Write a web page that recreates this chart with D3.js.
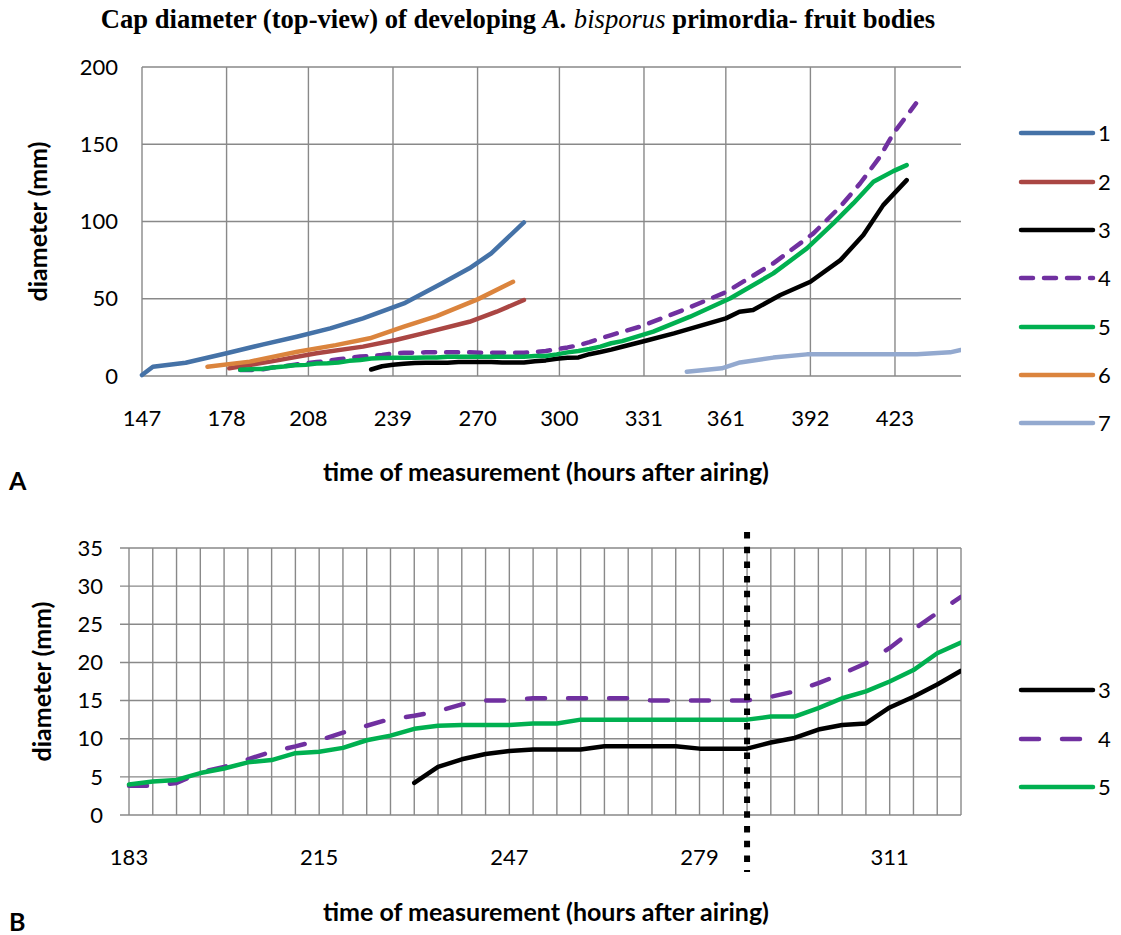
<!DOCTYPE html>
<html>
<head>
<meta charset="utf-8">
<script src="https://cdn.jsdelivr.net/npm/d3@7"></script>
<style>
  body { margin: 0; background: #fff; }
  svg { display: block; }
</style>
</head>
<body>
<div id="chart"></div>
<script>
// Cap diameter series, [hours after airing, diameter mm]
const series1 = [[147,0.6],[151,6],[163,8.6],[178,14.7],[191.5,20.5],[203.7,25.4],[216,30.8],[228,37.3],[243,47],[257,60],[267,69.7],[275,79.4],[287,99.4]];
const series2 = [[179,5],[194,9.3],[211,14.7],[228,19],[240,23.3],[250,27.6],[267,35.1],[277,41.6],[287,49.2]];
const series3 = [[231,4.2],[235,6.3],[239,7.3],[243,8.0],[247,8.4],[251,8.6],[259,8.6],[263,9.0],[275,9.0],[279,8.7],[287,8.7],[291,9.5],[295,10.1],[299,11.2],[303,11.8],[307,12.0],[311,14.1],[315,15.5],[319,17.1],[323,18.9],[332,23],[342,27.6],[361,37.3],[366,41.6],[371,42.7],[381,52.4],[392,61],[403,75],[411.4,91.2],[418.7,110.6],[427.3,126.8]];
const series4 = [[183,3.85],[187,3.85],[191,4.2],[195,5.6],[199,6.3],[203,7.3],[207,8.3],[211,9.0],[215,9.8],[219,10.8],[223,11.7],[227,12.6],[231,13.0],[235,13.6],[239,14.5],[243,15.0],[247,15.0],[251,15.3],[267,15.3],[271,15.0],[287,15.0],[291,15.5],[295,16.2],[299,17.3],[303,18.5],[307,19.9],[311,21.9],[315,24.3],[319,26.5],[323,28.6],[329.5,31.9],[345.4,42.7],[361.3,54.5],[378.4,72.9],[393.1,92.3],[402.9,109.5],[410.2,124.6],[417.5,141.9],[422.4,157],[430.7,176.4]];
const series5 = [[183,4.0],[187,4.4],[191,4.6],[195,5.5],[199,6.1],[203,6.9],[207,7.2],[211,8.1],[215,8.3],[219,8.8],[223,9.8],[227,10.4],[231,11.3],[235,11.7],[239,11.8],[247,11.8],[251,12.0],[255,12.0],[259,12.5],[287,12.5],[291,12.9],[295,12.9],[299,14.0],[303,15.3],[307,16.2],[311,17.5],[315,19.0],[319,21.2],[323,22.6],[334.4,28.7],[347.9,38.4],[362.5,50.2],[378.4,66.4],[390.7,82.6],[400.4,98.8],[407.7,111.7],[415.1,125.7],[422.4,132.6],[427.3,136.5]];
const series6 = [[171,6],[186.5,9.3],[204,15.7],[218,20],[230.5,24.4],[243,31.9],[255,38.8],[270,49.6],[283,61]];
const series7 = [[346.7,2.8],[359.5,5],[366.2,8.8],[378.4,11.9],[390.7,14],[431,14],[443.2,15.3],[447.1,16.8]];

const namesA = ["1","2","3","4","5","6","7"];
const namesB = ["3","4","5"];

const xTicksA = [147,178,208,239,270,300,331,361,392,423];
const yTicksA = [0,50,100,150,200];
const xTicksB = [183,215,247,279,311];
const yTicksB = [0,5,10,15,20,25,30,35];
const markerHour = 287;   // dotted line in panel B

const dataByName = {"1":series1,"2":series2,"3":series3,"4":series4,"5":series5,"6":series6,"7":series7};
const color = d3.scaleOrdinal()
    .domain(["1","2","3","4","5","6","7"])
    .range(["#4572A7","#AA4643","#000000","#7030A0","#00B050","#DB843D","#93A9CF"]);

const W = 1121, H = 935;
const font = "Lato, 'Open Sans', sans-serif";
const gridColor = "#898989";
const labelSize = "22px";
const titleSize = "25px";

const svg = d3.select("#chart").append("svg")
    .attr("width", W).attr("height", H);

// Title
const title = svg.append("text")
    .attr("x", 518).attr("y", 28)
    .attr("text-anchor", "middle")
    .style("font-family", "'Liberation Serif', 'Times New Roman', serif")
    .style("font-size", "26.6px")
    .style("font-weight", "bold");
title.append("tspan").text("Cap diameter (top-view) of developing ");
title.append("tspan").style("font-style", "italic").text("A. ");
title.append("tspan").style("font-style", "italic").style("font-weight", "normal").text("bisporus");
title.append("tspan").text(" primordia- fruit bodies");

function drawPanel(opt) {
    const { left, right, top, bottom, xDomain, yDomain, xTicks, yTicks, xGrid, names,
            tickOut, yLabelX, xLabelY, axisTitleY, yTitleX, dash, legendYs } = opt;

    const x = d3.scaleLinear().domain(xDomain).range([left, right]);
    const y = d3.scaleLinear().domain(yDomain).range([bottom, top]);
    const g = svg.append("g");

    // horizontal gridlines
    g.append("g").selectAll("line")
        .data(yTicks).join("line")
        .attr("x1", left - tickOut).attr("x2", right)
        .attr("y1", d => y(d)).attr("y2", d => y(d))
        .attr("stroke", gridColor).attr("stroke-width", 1.4);

    // vertical gridlines
    g.append("g").selectAll("line")
        .data(xGrid).join("line")
        .attr("x1", d => x(d)).attr("x2", d => x(d))
        .attr("y1", top).attr("y2", bottom)
        .attr("stroke", gridColor).attr("stroke-width", 1.4);

    // y tick labels
    g.append("g").selectAll("text")
        .data(yTicks).join("text")
        .attr("x", yLabelX).attr("y", d => y(d))
        .attr("dy", "0.35em")
        .attr("text-anchor", "end")
        .style("font-family", font).style("font-size", labelSize)
        .text(d => d);

    // x tick labels
    g.append("g").selectAll("text")
        .data(xTicks).join("text")
        .attr("x", d => x(d)).attr("y", xLabelY)
        .attr("text-anchor", "middle")
        .style("font-family", font).style("font-size", labelSize)
        .text(d => d);

    // axis titles
    g.append("text")
        .attr("x", 546).attr("y", axisTitleY)
        .attr("text-anchor", "middle")
        .style("font-family", font).style("font-size", titleSize).style("font-weight", "bold")
        .text("time of measurement (hours after airing)");
    g.append("text")
        .attr("transform", `translate(${yTitleX},${(top + bottom) / 2}) rotate(-90)`)
        .attr("text-anchor", "middle")
        .style("font-family", font).style("font-size", titleSize).style("font-weight", "bold")
        .text("diameter (mm)");

    // clip lines to plot area
    const clipId = "clip" + left;
    svg.append("clipPath").attr("id", clipId)
        .append("rect").attr("x", left - 5).attr("y", top - 10)
        .attr("width", right - left + 5).attr("height", bottom - top + 15);

    const line = d3.line().x(d => x(d[0])).y(d => y(d[1]));
    g.append("g").attr("clip-path", `url(#${clipId})`)
        .selectAll("path")
        .data(names).join("path")
        .attr("d", n => line(dataByName[n].filter(d => d[0] >= xDomain[0] - 0.01 && d[0] <= xDomain[1] + 0.01)))
        .attr("fill", "none")
        .attr("stroke", n => color(n))
        .attr("stroke-width", 4.5)
        .attr("stroke-linecap", "round")
        .attr("stroke-linejoin", "round")
        .attr("stroke-dasharray", n => n === "4" ? dash : null);

    // legend
    const leg = g.append("g");
    names.forEach((n, i) => {
        leg.append("line")
            .attr("x1", 1021).attr("x2", 1093)
            .attr("y1", legendYs[i]).attr("y2", legendYs[i])
            .attr("stroke", color(n)).attr("stroke-width", 4.5)
            .attr("stroke-linecap", "round")
            .attr("stroke-dasharray", n === "4" ? dash : null);
        leg.append("text")
            .attr("x", 1098).attr("y", legendYs[i])
            .attr("dy", "0.35em")
            .style("font-family", font).style("font-size", labelSize)
            .text(n);
    });

    return { x, y, g };
}

const panelA = drawPanel({
    left: 142, right: 961, top: 67, bottom: 376,
    xDomain: [147, 447.2], yDomain: [0, 200],
    xTicks: xTicksA, yTicks: yTicksA, xGrid: xTicksA,
    names: namesA, tickOut: 0,
    yLabelX: 118, xLabelY: 426, axisTitleY: 481, yTitleX: 47,
    dash: "12,11",
    legendYs: [133, 182, 230, 278, 327, 375, 423]
});

const panelB = drawPanel({
    left: 129, right: 961, top: 548, bottom: 815,
    xDomain: [183, 323], yDomain: [0, 35],
    xTicks: xTicksB, yTicks: yTicksB, xGrid: d3.range(183, 324, 4),
    names: namesB, tickOut: 9,
    yLabelX: 103, xLabelY: 865, axisTitleY: 921, yTitleX: 51,
    dash: "18,23",
    legendYs: [690, 739, 787]
});

// dotted marker line in panel B
svg.append("line")
    .attr("x1", panelB.x(markerHour)).attr("x2", panelB.x(markerHour))
    .attr("y1", 532).attr("y2", 872)
    .attr("stroke", "#000").attr("stroke-width", 6)
    .attr("stroke-dasharray", "6.5,8.2");

// panel letters
svg.append("text").attr("x", 9).attr("y", 490)
    .style("font-family", font).style("font-size", titleSize).style("font-weight", "bold")
    .text("A");
svg.append("text").attr("x", 9).attr("y", 931)
    .style("font-family", font).style("font-size", titleSize).style("font-weight", "bold")
    .text("B");
</script>
</body>
</html>
